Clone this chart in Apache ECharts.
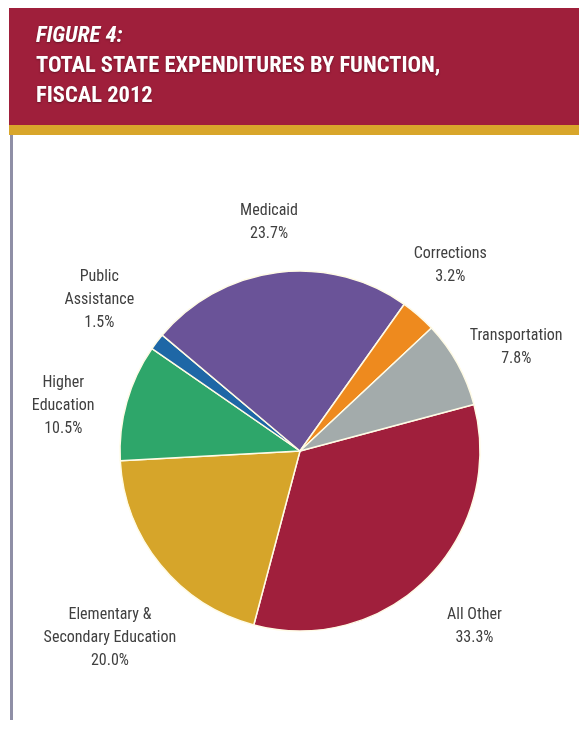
<!DOCTYPE html>
<html>
<head>
<meta charset="utf-8">
<script src="https://cdn.jsdelivr.net/npm/echarts@6/dist/echarts.min.js"></script>
<style>
  html, body { margin: 0; padding: 0; background: #ffffff; }
  #chart { width: 579px; height: 729px; }
</style>
</head>
<body>
<div id="chart"></div>
<script>
// Fiscal 2012 state expenditure shares, listed clockwise from the "All Other" slice
const categories = [
  'All Other',
  'Elementary &\nSecondary Education',
  'Higher\nEducation',
  'Public\nAssistance',
  'Medicaid',
  'Corrections',
  'Transportation'
];
const shares = [33.3, 20.0, 10.5, 1.5, 23.7, 3.2, 7.8];
const sliceColors = ['#a01f3c', '#d6a52a', '#2ea66a', '#1e67a6', '#6a5398', '#ee8a1e', '#a3abab'];

const titleLines = ['FIGURE 4:', 'TOTAL STATE EXPENDITURES BY FUNCTION,', 'FISCAL 2012'];

const narrow = '"Liberation Sans Narrow", "Arial Narrow", "Roboto Condensed", "Liberation Sans", sans-serif';

// pie geometry
const CX = 300, CY = 451, R = 180, START = 15;
const LABEL_R = 245;
// per-label adjustments away from the mid-angle anchor point
const labelNudge = [[1, 2], [0, 32], [-1, 22], [-6, -2], [0, 15], [-11, -1], [2, 15]];

const total = shares.reduce((a, b) => a + b, 0);
const midAngles = [];
{
  let a = START;
  shares.forEach(v => {
    const sweep = v / total * 360;
    midAngles.push(a - sweep / 2);
    a -= sweep;
  });
}

const chart = echarts.init(document.getElementById('chart'), null, { renderer: 'canvas' });

chart.setOption({
  backgroundColor: '#ffffff',
  animation: false,
  graphic: [
    { type: 'rect', left: 9, top: 8, z: 0, shape: { width: 570, height: 118 }, style: { fill: '#9f1f3b' } },
    { type: 'rect', left: 9, top: 125, z: 0, shape: { width: 570, height: 10 }, style: { fill: '#d8a62b' } },
    { type: 'rect', left: 10, top: 135, z: 0, shape: { width: 3, height: 585 }, style: { fill: '#8f8fa6' } }
  ],
  title: {
    left: 31,
    top: 16,
    text: '{a|' + titleLines[0] + '}\n{b|' + titleLines[1] + '}\n{b|' + titleLines[2] + '}',
    textStyle: {
      rich: {
        a: { fontFamily: narrow, fontWeight: 'bold', fontStyle: 'italic', fontSize: 22.5, color: '#ffffff', lineHeight: 30,
             textShadowColor: 'rgba(0,0,0,0.35)', textShadowBlur: 2, textShadowOffsetY: 1 },
        b: { fontFamily: narrow, fontWeight: 'bold', fontSize: 22.5, color: '#ffffff', lineHeight: 30,
             textShadowColor: 'rgba(0,0,0,0.35)', textShadowBlur: 2, textShadowOffsetY: 1 }
      }
    }
  },
  series: [{
    type: 'pie',
    center: [CX, CY],
    radius: [0, R],
    startAngle: START,
    clockwise: true,
    avoidLabelOverlap: false,
    itemStyle: { borderColor: '#fffbe6', borderWidth: 1.5 },
    label: {
      show: true,
      position: 'outside',
      fontFamily: narrow,
      fontSize: 16,
      lineHeight: 23,
      color: '#404040',
      align: 'center',
      formatter: p => p.name + '\n' + p.value.toFixed(1) + '%'
    },
    labelLine: { show: false },
    labelLayout: params => {
      const i = params.dataIndex;
      const a = midAngles[i] * Math.PI / 180;
      return {
        x: CX + LABEL_R * Math.cos(a) + labelNudge[i][0],
        y: CY - LABEL_R * Math.sin(a) + labelNudge[i][1],
        align: 'center',
        verticalAlign: 'middle'
      };
    },
    data: categories.map((c, i) => ({ name: c, value: shares[i], itemStyle: { color: sliceColors[i] } }))
  }]
});
</script>
</body>
</html>
